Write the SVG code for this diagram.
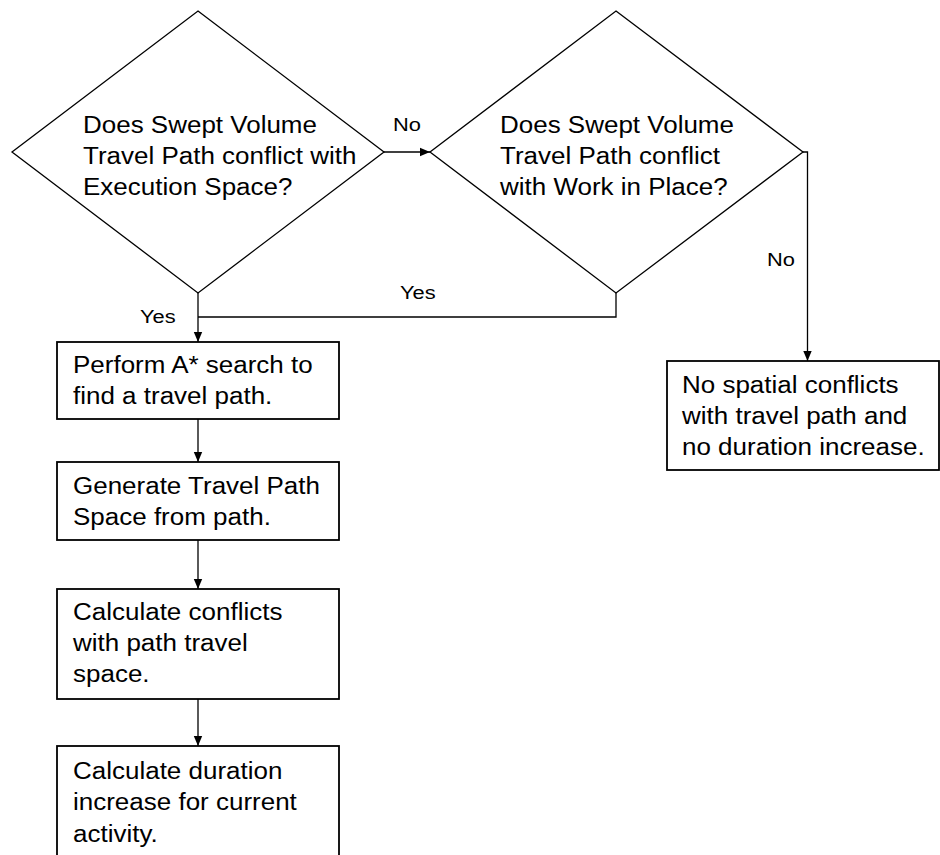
<svg xmlns="http://www.w3.org/2000/svg" width="940" height="855" viewBox="0 0 940 855">
  <defs>
    <marker id="arrow" viewBox="0 0 10 10" refX="10" refY="5" markerWidth="10" markerHeight="10" markerUnits="userSpaceOnUse" orient="auto">
      <path d="M0,0.8 L10,5 L0,9.2 Z" fill="#000"/>
    </marker>
    <style>
      .diamond { fill: #fff; stroke: #000; stroke-width: 1.3; }
      .box { fill: #fff; stroke: #000; stroke-width: 1.8; }
      .link { fill: none; stroke: #000; stroke-width: 1.3; }
      .txt { font-family: "Liberation Sans", Arial, sans-serif; font-size: 23px; fill: #000; }
      .lbl { font-family: "Liberation Sans", Arial, sans-serif; font-size: 19px; fill: #000; }
    </style>
  </defs>
  <rect width="940" height="855" fill="#fff"/>

  <!-- connectors -->
  <g id="connectors">
    <path class="link" d="M384,152 H430" marker-end="url(#arrow)"/>
    <path class="link" d="M803,152 H807.5 V361" marker-end="url(#arrow)"/>
    <path class="link" d="M198,293 V342" marker-end="url(#arrow)"/>
    <path class="link" d="M616,293 V317 H198"/>
    <path class="link" d="M198,419 V462" marker-end="url(#arrow)"/>
    <path class="link" d="M198,540 V589" marker-end="url(#arrow)"/>
    <path class="link" d="M198,699 V746" marker-end="url(#arrow)"/>
    <text class="lbl" transform="matrix(1.15 0 0 1 393 131)">No</text>
    <text class="lbl" transform="matrix(1.15 0 0 1 140 323)">Yes</text>
    <text class="lbl" transform="matrix(1.15 0 0 1 400 299)">Yes</text>
    <text class="lbl" transform="matrix(1.15 0 0 1 767 266)">No</text>
  </g>

  <!-- decision: execution space -->
  <g id="decision-execution">
    <polygon class="diamond" points="198,11 384,152 198,293 12,152"/>
    <text class="txt" transform="matrix(1.13 0 0 1 83 0)">
      <tspan x="0" y="133">Does Swept Volume</tspan>
      <tspan x="0" y="164">Travel Path conflict with</tspan>
      <tspan x="0" y="195">Execution Space?</tspan>
    </text>
  </g>

  <!-- decision: work in place -->
  <g id="decision-work">
    <polygon class="diamond" points="616,11 803,152 616,293 430,152"/>
    <text class="txt" transform="matrix(1.13 0 0 1 500 0)">
      <tspan x="0" y="133">Does Swept Volume</tspan>
      <tspan x="0" y="164">Travel Path conflict</tspan>
      <tspan x="0" y="195">with Work in Place?</tspan>
    </text>
  </g>

  <!-- process: A* search -->
  <g id="search">
    <rect class="box" x="57" y="342" width="282" height="77"/>
    <text class="txt" transform="matrix(1.13 0 0 1 73 0)">
      <tspan x="0" y="373">Perform A* search to</tspan>
      <tspan x="0" y="404">find a travel path.</tspan>
    </text>
  </g>

  <!-- process: generate space -->
  <g id="generate">
    <rect class="box" x="57" y="462" width="282" height="78"/>
    <text class="txt" transform="matrix(1.13 0 0 1 73 0)">
      <tspan x="0" y="494">Generate Travel Path</tspan>
      <tspan x="0" y="525">Space from path.</tspan>
    </text>
  </g>

  <!-- process: conflicts -->
  <g id="conflicts">
    <rect class="box" x="57" y="589" width="282" height="110"/>
    <text class="txt" transform="matrix(1.13 0 0 1 73 0)">
      <tspan x="0" y="620">Calculate conflicts</tspan>
      <tspan x="0" y="651">with path travel</tspan>
      <tspan x="0" y="682">space.</tspan>
    </text>
  </g>

  <!-- process: duration -->
  <g id="duration">
    <rect class="box" x="57" y="746" width="282" height="120"/>
    <text class="txt" transform="matrix(1.13 0 0 1 73 0)">
      <tspan x="0" y="779">Calculate duration</tspan>
      <tspan x="0" y="810">increase for current</tspan>
      <tspan x="0" y="842">activity.</tspan>
    </text>
  </g>

  <!-- terminal: no conflicts -->
  <g id="no-conflicts">
    <rect class="box" x="667" y="361" width="272" height="109"/>
    <text class="txt" transform="matrix(1.13 0 0 1 682 0)">
      <tspan x="0" y="393">No spatial conflicts</tspan>
      <tspan x="0" y="424">with travel path and</tspan>
      <tspan x="0" y="455">no duration increase.</tspan>
    </text>
  </g>
</svg>
